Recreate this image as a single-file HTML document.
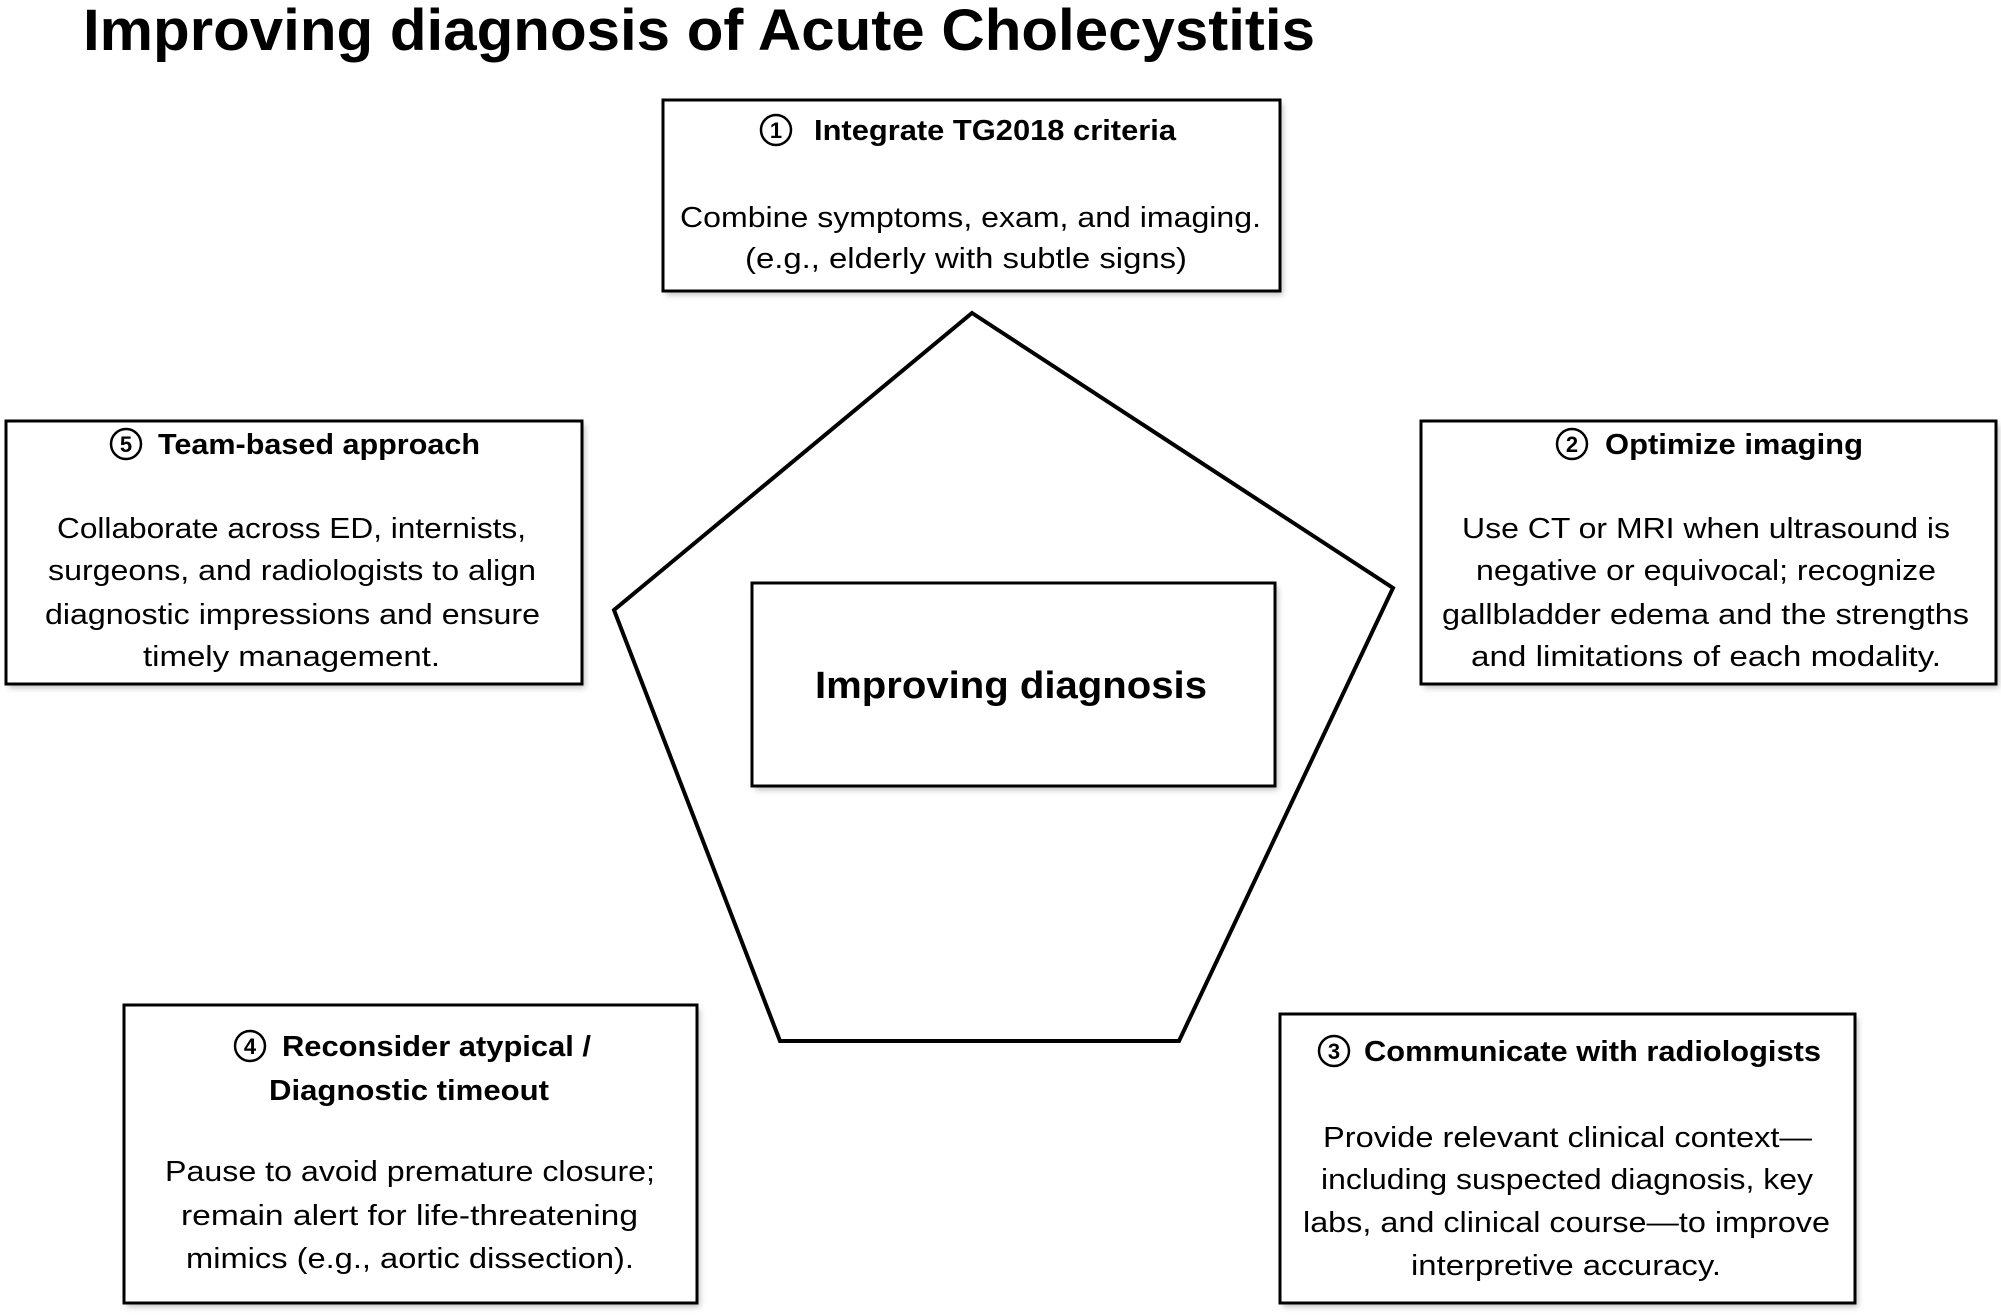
<!DOCTYPE html>
<html><head><meta charset="utf-8"><style>
html,body{margin:0;padding:0;background:#fff;}
svg{display:block;}
text{font-family:"Liberation Sans","DejaVu Sans",sans-serif;fill:#000;}
.h{font-weight:bold;font-size:29px;}
.b{font-size:29px;}
.n{font-size:22px;font-weight:bold;text-anchor:middle;}
.c{fill:none;stroke:#000;stroke-width:2.5;}
</style></head><body>
<svg width="2001" height="1315" viewBox="0 0 2001 1315" xmlns="http://www.w3.org/2000/svg">
<defs><filter id="sh" x="-5%" y="-5%" width="110%" height="115%"><feGaussianBlur stdDeviation="3"/></filter></defs>
<text x="83" y="50" font-size="58" font-weight="bold" textLength="1232" lengthAdjust="spacingAndGlyphs">Improving diagnosis of Acute Cholecystitis</text>

<polygon points="972,313 1393,588 1179,1041 780,1041 614,610" fill="none" stroke="#000" stroke-width="4"/>

<g fill="#999" opacity="0.6" filter="url(#sh)">
<rect x="666" y="104" width="617" height="191"/>
<rect x="9" y="425" width="576" height="263"/>
<rect x="1424" y="425" width="575" height="263"/>
<rect x="127" y="1009" width="573" height="298"/>
<rect x="1283" y="1018" width="575" height="289"/>
<rect x="755" y="587" width="523" height="203"/>
</g>
<g fill="#fff" stroke="#000" stroke-width="3">
<rect x="663" y="100" width="617" height="191"/>
<rect x="6" y="421" width="576" height="263"/>
<rect x="1421" y="421" width="575" height="263"/>
<rect x="124" y="1005" width="573" height="298"/>
<rect x="1280" y="1014" width="575" height="289"/>
<rect x="752" y="583" width="523" height="203"/>
</g>

<circle class="c" cx="776" cy="130" r="15"/><text class="n" x="776" y="138">1</text>
<text class="h" x="814" y="140" textLength="362" lengthAdjust="spacingAndGlyphs">Integrate TG2018 criteria</text>
<text class="b" x="680" y="227" textLength="581" lengthAdjust="spacingAndGlyphs">Combine symptoms, exam, and imaging.</text>
<text class="b" x="745" y="268" textLength="442" lengthAdjust="spacingAndGlyphs">(e.g., elderly with subtle signs)</text>

<circle class="c" cx="126" cy="444" r="15"/><text class="n" x="126" y="452">5</text>
<text class="h" x="158" y="454" textLength="322" lengthAdjust="spacingAndGlyphs">Team-based approach</text>
<text class="b" x="57" y="538" textLength="469" lengthAdjust="spacingAndGlyphs">Collaborate across ED, internists,</text>
<text class="b" x="48" y="580" textLength="488" lengthAdjust="spacingAndGlyphs">surgeons, and radiologists to align</text>
<text class="b" x="45" y="624" textLength="495" lengthAdjust="spacingAndGlyphs">diagnostic impressions and ensure</text>
<text class="b" x="143" y="666" textLength="297" lengthAdjust="spacingAndGlyphs">timely management.</text>

<circle class="c" cx="1572" cy="444" r="15"/><text class="n" x="1572" y="452">2</text>
<text class="h" x="1605" y="454" textLength="258" lengthAdjust="spacingAndGlyphs">Optimize imaging</text>
<text class="b" x="1462" y="538" textLength="488" lengthAdjust="spacingAndGlyphs">Use CT or MRI when ultrasound is</text>
<text class="b" x="1476" y="580" textLength="460" lengthAdjust="spacingAndGlyphs">negative or equivocal; recognize</text>
<text class="b" x="1442" y="624" textLength="527" lengthAdjust="spacingAndGlyphs">gallbladder edema and the strengths</text>
<text class="b" x="1471" y="666" textLength="470" lengthAdjust="spacingAndGlyphs">and limitations of each modality.</text>

<circle class="c" cx="250" cy="1046" r="15"/><text class="n" x="250" y="1054">4</text>
<text class="h" x="282" y="1056" textLength="309" lengthAdjust="spacingAndGlyphs">Reconsider atypical /</text>
<text class="h" x="269" y="1100" textLength="280" lengthAdjust="spacingAndGlyphs">Diagnostic timeout</text>
<text class="b" x="165" y="1181" textLength="490" lengthAdjust="spacingAndGlyphs">Pause to avoid premature closure;</text>
<text class="b" x="181" y="1225" textLength="457" lengthAdjust="spacingAndGlyphs">remain alert for life-threatening</text>
<text class="b" x="186" y="1268" textLength="448" lengthAdjust="spacingAndGlyphs">mimics (e.g., aortic dissection).</text>

<circle class="c" cx="1334" cy="1051" r="15"/><text class="n" x="1334" y="1059">3</text>
<text class="h" x="1364" y="1061" textLength="457" lengthAdjust="spacingAndGlyphs">Communicate with radiologists</text>
<text class="b" x="1323" y="1147" textLength="489" lengthAdjust="spacingAndGlyphs">Provide relevant clinical context—</text>
<text class="b" x="1321" y="1189" textLength="492" lengthAdjust="spacingAndGlyphs">including suspected diagnosis, key</text>
<text class="b" x="1303" y="1232" textLength="527" lengthAdjust="spacingAndGlyphs">labs, and clinical course—to improve</text>
<text class="b" x="1411" y="1275" textLength="310" lengthAdjust="spacingAndGlyphs">interpretive accuracy.</text>

<text x="815" y="698" font-size="38" font-weight="bold" textLength="392" lengthAdjust="spacingAndGlyphs">Improving diagnosis</text>
</svg>
</body></html>
